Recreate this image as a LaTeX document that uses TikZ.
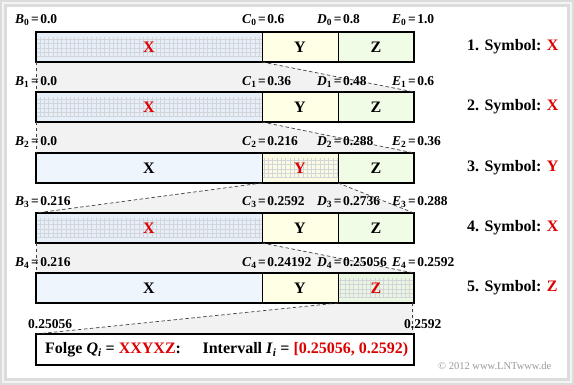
\documentclass[tikz,border=0pt]{standalone}
\usepackage{fontspec}
\setmainfont{Liberation Serif}
\definecolor{myred}{HTML}{DD0000}
\definecolor{Xc}{HTML}{EEF5FC}
\definecolor{Xs}{HTML}{E6EEF7}
\definecolor{Yc}{HTML}{FFFFE6}
\definecolor{Ys}{HTML}{FBFBE4}
\definecolor{Zc}{HTML}{F1FCE7}
\definecolor{Zs}{HTML}{EAF5E2}
\definecolor{band}{HTML}{F2F2F2}
\definecolor{fra}{HTML}{DCDCDC}
\definecolor{frb}{HTML}{F4F4F4}
\definecolor{gridc}{HTML}{D2D6DA}
\newcommand\lab[3]{\textbf{\textit{#1}\textsubscript{#2}\hspace{0.12em}=\hspace{0.12em}#3}}
\tikzset{
  seg/.style={draw=black, line width=0.8pt, minimum height=30pt, inner sep=0pt, outer sep=0pt,
    font=\fontsize{16}{18}\selectfont\bfseries},
  segX/.style={seg, minimum width=226pt, fill=Xc},
  segY/.style={seg, minimum width=76pt, fill=Yc},
  segZ/.style={seg, minimum width=76pt, fill=Zc},
  selected/.style={text=myred, path picture={\draw[gridc, line width=0.5pt]
     ([xshift=-5pt,yshift=5pt]path picture bounding box.south west) grid[step=4.3pt]
     ([xshift=5pt,yshift=-5pt]path picture bounding box.north east);}},
  barframe/.style={draw=black, line width=1.8pt},
  zoomline/.style={draw=black!75, line width=0.7pt, dash pattern=on 3.5pt off 2.5pt},
  lbl/.style={anchor=west, inner sep=0pt, font=\fontsize{13.5}{15}\selectfont},
  sym/.style={anchor=west, inner sep=0pt, font=\fontsize{16}{18}\selectfont\bfseries},
}
\begin{document}
\begin{tikzpicture}[x=1pt,y=-1pt]
\useasboundingbox (0,0) rectangle (574,385);
% frame
\fill[fra] (0,0) rectangle (574,385);
\fill[frb] (2,2) rectangle (572,383);
\fill[fra] (4,4) rectangle (570,381);
\fill[white] (7,7) rectangle (567,378);
% gray zoom bands
\fill[band] (36,62) -- (262,62) -- (414,92) -- (36,92) -- cycle;
\fill[band] (36,122) -- (262,122) -- (414,153) -- (36,153) -- cycle;
\fill[band] (262,183) -- (338,183) -- (414,213) -- (36,213) -- cycle;
\fill[band] (36,243) -- (262,243) -- (414,273) -- (36,273) -- cycle;
\fill[band] (338,303) -- (414,303) -- (414,334) -- (36,334) -- cycle;
% bar 1
\node[segX, selected, fill=Xs] (X1) at (149,47) {X};
\node[segY] (Y1) at (300,47) {Y};
\node[segZ] (Z1) at (376,47) {Z};
% bar 2
\node[segX, selected, fill=Xs] (X2) at (149,107) {X};
\node[segY] (Y2) at (300,107) {Y};
\node[segZ] (Z2) at (376,107) {Z};
% bar 3
\node[segX] (X3) at (149,168) {X};
\node[segY, selected, fill=Ys] (Y3) at (300,168) {Y};
\node[segZ] (Z3) at (376,168) {Z};
% bar 4
\node[segX, selected, fill=Xs] (X4) at (149,228) {X};
\node[segY] (Y4) at (300,228) {Y};
\node[segZ] (Z4) at (376,228) {Z};
% bar 5
\node[segX] (X5) at (149,288) {X};
\node[segY] (Y5) at (300,288) {Y};
\node[segZ, selected, fill=Zs] (Z5) at (376,288) {Z};
% bar frames
\foreach \i in {1,...,5} {\draw[barframe] (X\i.north west) rectangle (Z\i.south east);}
% result box
\node[draw=black, line width=1.8pt, minimum width=378pt, minimum height=31pt, inner sep=0pt, outer sep=0pt] (R) at (225,349.5) {};
\node[anchor=west, inner sep=0pt, font=\fontsize{16}{18}\selectfont\bfseries] (RT) at (45,350)
 {Folge \textit{Q}\textsubscript{\textit{i}} = \textcolor{myred}{XXYXZ}:\hspace{1.35em}Intervall \textit{I}\textsubscript{\textit{i}} = \textcolor{myred}{[0.25056, 0.2592)}};
% zoom lines
\draw[zoomline] (X1.south east) -- (Z2.north east);
\draw[zoomline] (X1.south west) -- (X2.north west);
\draw[zoomline] (X2.south east) -- (Z3.north east);
\draw[zoomline] (X2.south west) -- (X3.north west);
\draw[zoomline] (Y3.south west) -- (X4.north west);
\draw[zoomline] (Y3.south east) -- (Z4.north east);
\draw[zoomline] (X4.south east) -- (Z5.north east);
\draw[zoomline] (X4.south west) -- (X5.north west);
\draw[zoomline] (Z5.south west) -- (R.north west);
\draw[zoomline] ([xshift=-2pt]Z5.south east) -- ([xshift=-2pt]R.north east);
% labels row 1
\node[lbl] (b0) at (15,20) {\lab{B}{0}{0.0}};
\node[lbl] (c0) at (242,20) {\lab{C}{0}{0.6}};
\node[lbl] (d0) at (317,20) {\lab{D}{0}{0.8}};
\node[lbl] (e0) at (392,20) {\lab{E}{0}{1.0}};
% row 2
\node[lbl] (b1) at (15,82) {\lab{B}{1}{0.0}};
\node[lbl] (c1) at (242,82) {\lab{C}{1}{0.36}};
\node[lbl] (d1) at (317,82) {\lab{D}{1}{0.48}};
\node[lbl] (e1) at (392,82) {\lab{E}{1}{0.6}};
% row 3
\node[lbl] (b2) at (15,142) {\lab{B}{2}{0.0}};
\node[lbl] (c2) at (242,142) {\lab{C}{2}{0.216}};
\node[lbl] (d2) at (317,142) {\lab{D}{2}{0.288}};
\node[lbl] (e2) at (392,142) {\lab{E}{2}{0.36}};
% row 4
\node[lbl] (b3) at (15,202) {\lab{B}{3}{0.216}};
\node[lbl] (c3) at (242,202) {\lab{C}{3}{0.2592}};
\node[lbl] (d3) at (317,202) {\lab{D}{3}{0.2736}};
\node[lbl] (e3) at (392,202) {\lab{E}{3}{0.288}};
% row 5
\node[lbl] (b4) at (15,263) {\lab{B}{4}{0.216}};
\node[lbl] (c4) at (242,263) {\lab{C}{4}{0.24192}};
\node[lbl] (d4) at (317,263) {\lab{D}{4}{0.25056}};
\node[lbl] (e4) at (392,263) {\lab{E}{4}{0.2592}};
% bottom labels
\node[lbl] (lo) at (28,324) {\textbf{0.25056}};
\node[lbl] (hi) at (404,324) {\textbf{0.2592}};
% symbol labels
\node[sym] (s1) at (467,47) {1. Symbol: \textcolor{myred}{X}};
\node[sym] (s2) at (467,107) {2. Symbol: \textcolor{myred}{X}};
\node[sym] (s3) at (467,168) {3. Symbol: \textcolor{myred}{Y}};
\node[sym] (s4) at (467,228) {4. Symbol: \textcolor{myred}{X}};
\node[sym] (s5) at (467,288) {5. Symbol: \textcolor{myred}{Z}};
% copyright
\node[anchor=west, inner sep=0pt, text=black!40, font=\fontsize{10.5}{12}\selectfont] (cp) at (438,366) {© 2012 www.LNTwww.de};
\end{tikzpicture}
\end{document}
